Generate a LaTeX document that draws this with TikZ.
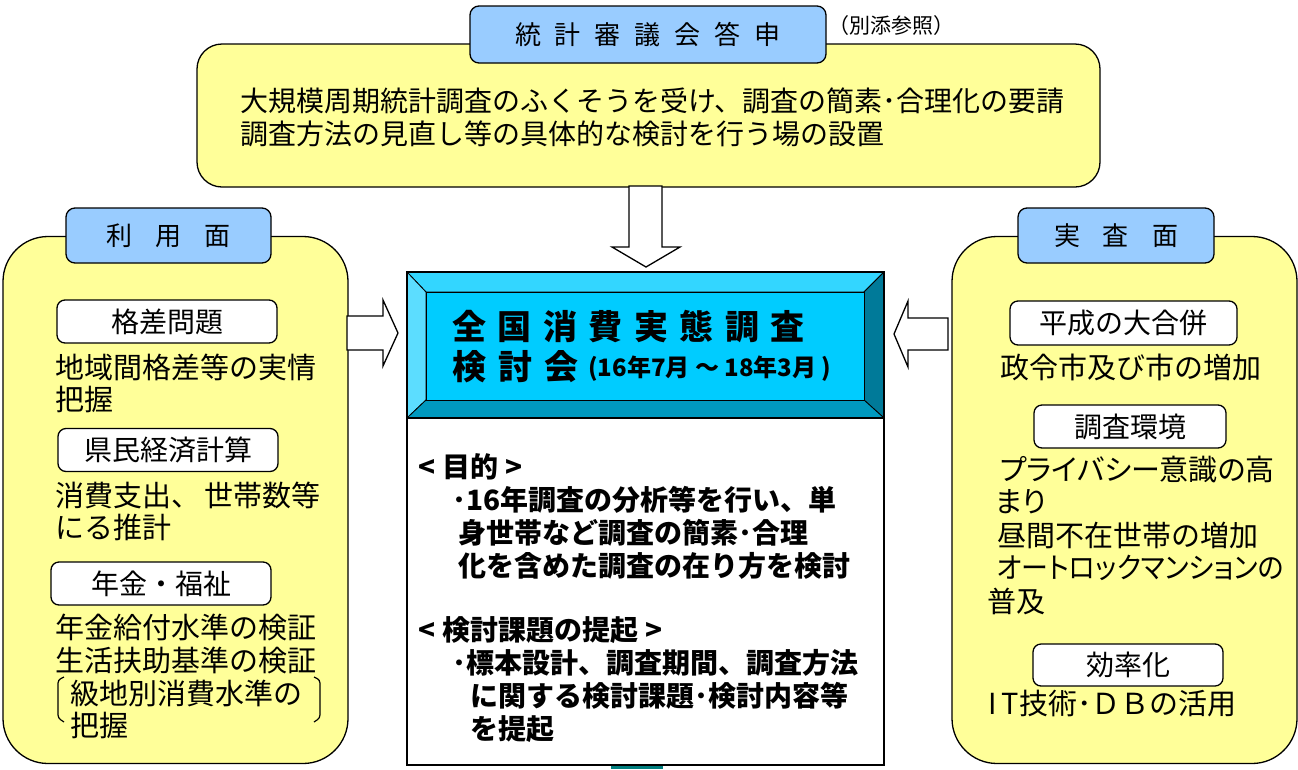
\documentclass[tikz,border=0pt]{standalone}
\usepackage{fontspec}
\setmainfont{Noto Sans CJK JP}
\newfontfamily\pfont{Noto Sans CJK JP}[RawFeature={+palt}]
\definecolor{tabblue}{HTML}{99CCFF}
\definecolor{pale}{HTML}{FFFF99}
\definecolor{cyanin}{HTML}{00CCFF}
\definecolor{bevtop}{HTML}{33D6FF}
\definecolor{bevleft}{HTML}{5CDDFF}
\definecolor{bevright}{HTML}{007A99}
\definecolor{bevbot}{HTML}{0099BF}
\definecolor{tealbar}{HTML}{007F7F}
\tikzset{
  panel/.style={draw, line width=1.3pt, fill=pale, rounded corners=45pt, inner sep=0pt},
  toppanel/.style={draw, line width=1.3pt, fill=pale, rounded corners=25pt, inner sep=0pt},
  tabbox/.style={draw, line width=1.3pt, fill=tabblue, rounded corners=9pt, inner sep=0pt, font=\fontsize{26}{28}\selectfont},
  subbox/.style={draw, line width=1.3pt, fill=white, rounded corners=8pt, inner sep=0pt, font=\fontsize{28}{30}\selectfont},
  txt/.style={anchor=west, inner sep=0pt, font=\fontsize{28}{30}\selectfont},
  stxt/.style={anchor=west, inner sep=0pt, font=\fontsize{29}{31}\selectfont},
  btxt/.style={anchor=west, inner sep=0pt, font=\bfseries\fontsize{28}{30}\selectfont},
  blockarrow/.style={draw, line width=1.3pt, fill=white, line join=miter},
  bevel/.style={draw=black, line width=0.8pt, line join=miter},
}
\begin{document}
\begin{tikzpicture}[x=1pt, y=-1pt]
\useasboundingbox (0,0) rectangle (1298,769);

% ---------- top block ----------
\node[toppanel, minimum width=903pt, minimum height=143pt] (top) at (648.5,115.5) {};
\node[tabbox, minimum width=356pt, minimum height=57pt] (toptab) at (648,34.5)
  {統\hspace{14pt}計\hspace{14pt}審\hspace{14pt}議\hspace{14pt}会\hspace{14pt}答\hspace{14pt}申};
\node[anchor=west, inner sep=0pt, font=\fontsize{21}{23}\selectfont] (ref) at (828,26) {（別添参照）};
\node[txt] (t1) at (240,101) {大規模周期統計調査のふくそうを受け、調査の簡素･合理化の要請};
\node[txt] (t2) at (240,134) {調査方法の見直し等の具体的な検討を行う場の設置};

% ---------- left panel ----------
\node[panel, minimum width=345pt, minimum height=527pt] (left) at (175.5,500) {};
\node[tabbox, minimum width=205pt, minimum height=55pt] (ltab) at (168.5,235.5)
  {利\hspace{23pt}用\hspace{23pt}面};
\node[subbox, minimum width=220pt, minimum height=43pt] (l1) at (167,321.5) {格差問題};
\node[stxt] (l1a) at (55,367) {地域間格差等の実情};
\node[stxt] (l1b) at (55,399) {把握};
\node[subbox, minimum width=220pt, minimum height=43pt] (l2) at (168,450) {県民経済計算};
\node[stxt] (l2a) at (55,495) {消費支出、\hspace{4pt}世帯数等};
\node[stxt] (l2b) at (55,527) {にる推計};
\node[subbox, minimum width=220pt, minimum height=43pt] (l3) at (161,583.5) {年金・福祉};
\node[stxt] (l3a) at (55,627) {年金給付水準の検証};
\node[stxt] (l3b) at (55,660) {生活扶助基準の検証};
\node[stxt] (l3c) at (70,693) {級地別消費水準の};
\node[stxt] (l3d) at (70,725) {把握};
\draw[line width=1.2pt, rounded corners=3pt] (64,677) -- (58,680) -- (58,718) -- (64,722);
\draw[line width=1.2pt, rounded corners=3pt] (314,677) -- (320,680) -- (320,718) -- (314,722);

% ---------- right panel ----------
\node[panel, minimum width=345pt, minimum height=527pt] (right) at (1124.5,500) {};
\node[tabbox, minimum width=196pt, minimum height=55pt] (rtab) at (1116,235.5)
  {実\hspace{23pt}査\hspace{23pt}面};
\node[subbox, minimum width=227pt, minimum height=44pt] (r1) at (1123.5,323) {平成の大合併};
\node[stxt] (r1a) at (1000,367) {政令市及び市の増加};
\node[subbox, minimum width=192pt, minimum height=43pt] (r2) at (1130,426.5) {調査環境};
\node[stxt, font=\pfont\fontsize{29}{31}\selectfont] (r2a) at (1000,470) {プライバシー意識の高};
\node[stxt, font=\pfont\fontsize{29}{31}\selectfont] (r2b) at (995,502) {まり};
\node[stxt] (r2c) at (997,535) {昼間不在世帯の増加};
\node[stxt, font=\pfont\fontsize{29}{31}\selectfont] (r2d) at (997,568) {\scalebox{0.93}[1]{オートロックマンションの}};
\node[stxt] (r2e) at (987,601) {普及};
\node[subbox, minimum width=190pt, minimum height=42pt] (r3) at (1128,665) {効率化};
\node[stxt] (r3a) at (988,704) {I\hspace{5pt}T技術･ＤＢの活用};

% ---------- block arrows ----------
\draw[blockarrow] (629,186) -- (662,186) -- (662,247) -- (680,247) -- (646,267) -- (612,247) -- (629,247) -- cycle;
\draw[blockarrow] (347,316) -- (383,316) -- (383,300) -- (398,333) -- (383,366) -- (383,350) -- (347,350) -- cycle;
\draw[blockarrow] (948,318) -- (908,318) -- (908,301) -- (894,334) -- (908,367) -- (908,350) -- (948,350) -- cycle;

% ---------- centre box ----------
\fill[tealbar] (611,760) rectangle (663,769);
\node[draw, line width=1.3pt, fill=white, minimum width=477pt, minimum height=493pt, inner sep=0pt] (center) at (645.5,518.5) {};
\filldraw[bevel, fill=bevtop] (407,272) -- (884,272) -- (864,292) -- (426,292) -- cycle;
\filldraw[bevel, fill=bevleft] (407,272) -- (426,292) -- (426,400) -- (407,418) -- cycle;
\filldraw[bevel, fill=bevright] (884,272) -- (864,292) -- (864,400) -- (884,418) -- cycle;
\filldraw[bevel, fill=bevbot] (407,418) -- (426,400) -- (864,400) -- (884,418) -- cycle;
\filldraw[bevel, fill=cyanin] (426,292) rectangle (864,400);
\draw[line width=1.3pt] (407,272) rectangle (884,418);

\node[anchor=west, inner sep=0pt, font=\bfseries\fontsize{34}{36}\selectfont] (title1) at (452,327)
  {全\hspace{11.5pt}国\hspace{11.5pt}消\hspace{11.5pt}費\hspace{11.5pt}実\hspace{11.5pt}態\hspace{11.5pt}調\hspace{11.5pt}査};
\node[anchor=west, inner sep=0pt, font=\bfseries\fontsize{34}{36}\selectfont] (title2) at (452,367)
  {検\hspace{12pt}討\hspace{12pt}会};
\node[anchor=west, inner sep=0pt, font=\bfseries\fontsize{24}{26}\selectfont] (title3) at (588,369)
  {(16年7月 ～ 18年3月 )};

\node[btxt] (b1) at (418,467) {<\hspace{7pt}目的\hspace{7pt}>};
\node[btxt] (b2) at (452,500) {･16年調査の分析等を行い、単};
\node[btxt] (b3) at (458,533) {身世帯など調査の簡素･合理};
\node[btxt] (b4) at (458,566) {化を含めた調査の在り方を検討};
\node[btxt] (b5) at (418,630) {<\hspace{7pt}検討課題の提起\hspace{7pt}>};
\node[btxt] (b6) at (452,663) {･標本設計、調査期間、調査方法};
\node[btxt] (b7) at (470,696) {に関する検討課題･検討内容等};
\node[btxt] (b8) at (470,729) {を提起};
\end{tikzpicture}
\end{document}
